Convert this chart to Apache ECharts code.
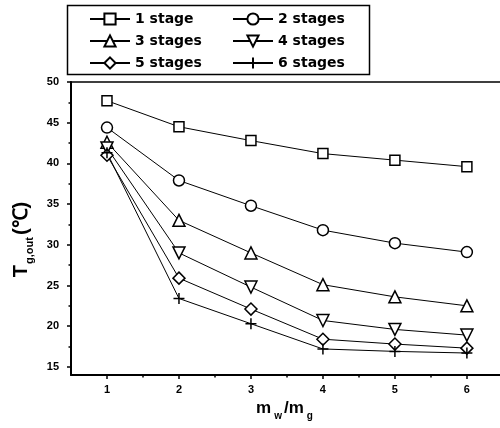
<!DOCTYPE html>
<html><head><meta charset="utf-8">
<script src="https://cdn.jsdelivr.net/npm/echarts@6/dist/echarts.min.js"></script>
<style>html,body{margin:0;padding:0;background:#fff}#c{width:500px;height:428px}</style>
</head><body><div id="c"></div>
<script>
const xValues = [1, 2, 3, 4, 5, 6];
const stage1 = [47.7, 44.5, 42.8, 41.2, 40.4, 39.6];
const stage2 = [44.4, 37.9, 34.8, 31.8, 30.2, 29.1];
const stage3 = [42.6, 33.0, 29.0, 25.1, 23.6, 22.5];
const stage4 = [41.9, 29.0, 24.8, 20.7, 19.6, 18.9];
const stage5 = [41.0, 25.9, 22.1, 18.4, 17.8, 17.3];
const stage6 = [41.3, 23.4, 20.3, 17.2, 16.9, 16.7];
const seriesNames = ['1 stage', '2 stages', '3 stages', '4 stages', '5 stages', '6 stages'];
const xMajorTicks = [1, 2, 3, 4, 5, 6];
const xMinorTicks = [1.5, 2.5, 3.5, 4.5, 5.5];
const yMajorTicks = [15, 20, 25, 30, 35, 40, 45, 50];
const yMinorTicks = [17.5, 22.5, 27.5, 32.5, 37.5, 42.5, 47.5];

const FONT = 'Liberation Sans';
const LFONT = 'DejaVu Sans';
const pair = arr => xValues.map((x, i) => [x, arr[i]]);
const hollow = {color: '#fff', borderColor: '#000', borderWidth: 1.5};
const plusPath = 'path://M5,0V10M0,5H10';
function mk(name, data, symbol, size, extra) {
  return Object.assign({
    name, type: 'line', data: pair(data), symbol, symbolSize: size,
    showAllSymbol: true,
    lineStyle: {color: '#000', width: 1},
    itemStyle: Object.assign({}, hollow),
    emphasis: {disabled: true},
    animation: false, z: 3
  }, extra || {});
}
const chart = echarts.init(document.getElementById('c'), null, {renderer: 'canvas'});
const axisLabelStyle = {color: '#000', fontFamily: FONT, fontWeight: 'bold', fontSize: 11};
const legendText = {color: '#000', fontFamily: LFONT, fontWeight: 'bold', fontSize: 14};
chart.setOption({
  backgroundColor: '#fff',
  animation: false,
  grid: {left: 71, right: 0, top: 82, bottom: 53, show: false},
  legend: [
    {data: [seriesNames[0], seriesNames[2], seriesNames[4]], orient: 'vertical', left: 89, top: 12,
     itemWidth: 40, itemHeight: 14, itemGap: 8, padding: 0, textStyle: legendText},
    {data: [seriesNames[1], seriesNames[3], seriesNames[5]], orient: 'vertical', left: 232, top: 12,
     itemWidth: 40, itemHeight: 14, itemGap: 8, padding: 0, textStyle: legendText}
  ],
  graphic: [{type: 'rect', shape: {x: 67.5, y: 5.5, width: 302, height: 69},
    style: {fill: 'transparent', stroke: '#000', lineWidth: 1.5}, silent: true}],
  xAxis: [
    {type: 'value', min: 0.5, max: 6.46, position: 'bottom',
     axisLine: {show: true, lineStyle: {color: '#000', width: 2}},
     axisTick: {show: true, length: 4, customValues: xMajorTicks, lineStyle: {color: '#000', width: 1.5}},
     axisLabel: {show: true, customValues: xMajorTicks, margin: 9, ...axisLabelStyle},
     splitLine: {show: false},
     name: '{t|m}{s|w}{t|/m}{s|g}', nameLocation: 'middle', nameGap: 24,
     nameTextStyle: {rich: {
       t: {fontFamily: FONT, fontWeight: 'bold', fontSize: 17, color: '#000', lineHeight: 20, verticalAlign: 'bottom', padding: [0, 0, 4, 0]},
       s: {fontFamily: FONT, fontWeight: 'bold', fontSize: 10, color: '#000', lineHeight: 12, verticalAlign: 'bottom', padding: [0, 2, 0, 3]}
     }}},
    {type: 'value', min: 0.5, max: 6.46, position: 'bottom',
     axisLine: {show: false},
     axisTick: {show: true, length: 2.5, customValues: xMinorTicks, lineStyle: {color: '#000', width: 1.5}},
     axisLabel: {show: false}, splitLine: {show: false}},
    {type: 'value', min: 0.5, max: 6.46, position: 'top',
     axisLine: {show: true, lineStyle: {color: '#000', width: 1.5}},
     axisTick: {show: false}, axisLabel: {show: false}, splitLine: {show: false}}
  ],
  yAxis: [
    {type: 'value', min: 14, max: 50, position: 'left',
     axisLine: {show: true, lineStyle: {color: '#000', width: 2}},
     axisTick: {show: true, length: 4, customValues: yMajorTicks, lineStyle: {color: '#000', width: 1.5}},
     axisLabel: {show: true, customValues: yMajorTicks, margin: 12, ...axisLabelStyle},
     splitLine: {show: false},
     name: '{t|T}{s|g,out}{t|(℃)}', nameLocation: 'middle', nameGap: 34, nameRotate: 90,
     nameTextStyle: {padding: [0, 22, 0, 0], rich: {
       t: {fontFamily: FONT, fontWeight: 'bold', fontSize: 20, color: '#000', lineHeight: 22, verticalAlign: 'bottom', padding: [0, 0, 4, 0]},
       s: {fontFamily: FONT, fontWeight: 'bold', fontSize: 11, color: '#000', lineHeight: 13, verticalAlign: 'bottom', padding: [0, 2, 0, 1]}
     }}},
    {type: 'value', min: 14, max: 50, position: 'left',
     axisLine: {show: false},
     axisTick: {show: true, length: 2.5, customValues: yMinorTicks, lineStyle: {color: '#000', width: 1.5}},
     axisLabel: {show: false}, splitLine: {show: false}}
  ],
  series: [
    mk(seriesNames[0], stage1, 'rect', 10),
    mk(seriesNames[1], stage2, 'circle', 11),
    mk(seriesNames[2], stage3, 'triangle', 12),
    mk(seriesNames[3], stage4, 'triangle', 12, {symbolRotate: 180}),
    mk(seriesNames[4], stage5, 'diamond', 12),
    mk(seriesNames[5], stage6, plusPath, 11)
  ]
});
</script></body></html>
